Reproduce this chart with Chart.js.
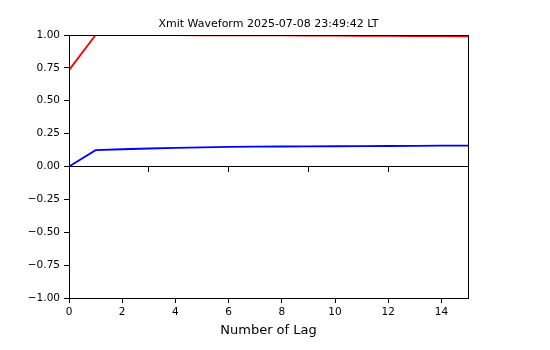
<!DOCTYPE html>
<html>
<head>
<meta charset="utf-8">
<script src="https://cdn.jsdelivr.net/npm/chart.js@4/dist/chart.umd.min.js"></script>
<style>
  html, body { margin: 0; padding: 0; background: #ffffff; }
  #wrap { width: 550px; height: 350px; }
</style>
</head>
<body>
<div id="wrap"><canvas id="c" width="550" height="350"></canvas></div>
<script>
// Lag index
const lags = [0, 1, 2, 3, 4, 5, 6, 7, 8, 9, 10, 11, 12, 13, 14, 15];
// Correlation of the transmitted waveform (two components)
const redSeries  = [0.733, 1.000, 0.9995, 0.999, 0.9985, 0.998, 0.9975, 0.997, 0.9965, 0.996, 0.995, 0.994, 0.993, 0.992, 0.991, 0.990];
const blueSeries = [0.000, 0.124, 0.131, 0.137, 0.142, 0.146, 0.149, 0.151, 0.152, 0.153, 0.154, 0.155, 0.156, 0.157, 0.158, 0.159];
// Axis ticks
const xTicks = [0, 2, 4, 6, 8, 10, 12, 14];
const yTicks = [-1, -0.75, -0.5, -0.25, 0, 0.25, 0.5, 0.75, 1];
const zeroAxisTicks = [3, 6, 9, 12];

const FONT = 'DejaVu Sans';
const INK = '#000000';

const toPoints = (ys) => lags.map((x, i) => ({ x: x, y: ys[i] }));

// Box around the plotting area
const framePlugin = {
  id: 'frame',
  afterDatasetsDraw(chart) {
    const { ctx, chartArea: a } = chart;
    ctx.save();
    ctx.strokeStyle = INK;
    ctx.lineWidth = 1;
    ctx.strokeRect(Math.round(a.left) + 0.5, Math.round(a.top) + 0.5,
                   Math.round(a.right - a.left), Math.round(a.bottom - a.top));
    ctx.restore();
  }
};

new Chart(document.getElementById('c'), {
  type: 'line',
  data: {
    datasets: [
      { data: toPoints(redSeries), borderColor: '#ff0000', borderWidth: 1.8, pointRadius: 0, tension: 0, fill: false },
      { data: toPoints(blueSeries), borderColor: '#0000ff', borderWidth: 1.8, pointRadius: 0, tension: 0, fill: false }
    ]
  },
  options: {
    responsive: false,
    animation: false,
    events: [],
    layout: { padding: { left: 0, right: 82, top: 0, bottom: 0 } },
    plugins: {
      legend: { display: false },
      tooltip: { enabled: false },
      title: { display: false }
    },
    scales: {
      x: {
        type: 'linear',
        min: 0, max: 15,
        afterBuildTicks: (s) => { s.ticks = xTicks.map(v => ({ value: v })); },
        afterFit: (s) => { s.height = 52; },
        ticks: { color: INK, padding: 3, maxRotation: 0, font: { family: FONT, size: 10.5 } },
        grid: { drawOnChartArea: false, drawTicks: true, tickLength: 5, tickColor: INK },
        border: { display: true, color: INK, width: 1 },
        title: {
          display: true, text: 'Number of Lag', color: INK,
          font: { family: FONT, size: 13 }, padding: { top: 4, bottom: 12 }
        }
      },
      // Header axis carrying the plot title, centred over the plotting area
      head: {
        type: 'linear',
        axis: 'x',
        position: 'top',
        min: 0, max: 15,
        afterFit: (s) => { s.height = 35; },
        ticks: { display: false },
        grid: { display: false, drawOnChartArea: false, drawTicks: false },
        border: { display: false },
        title: {
          display: true, text: 'Xmit Waveform 2025-07-08 23:49:42 LT', color: INK,
          font: { family: FONT, size: 11 }, padding: { top: 18, bottom: 0 }
        }
      },
      zero: {
        type: 'linear',
        axis: 'x',
        position: { y: 0 },
        min: 0, max: 15,
        afterBuildTicks: (s) => { s.ticks = zeroAxisTicks.map(v => ({ value: v })); },
        ticks: { display: false },
        grid: { drawOnChartArea: false, drawTicks: true, tickLength: 5, tickColor: INK },
        border: { display: true, color: INK, width: 1 }
      },
      y: {
        type: 'linear',
        min: -1, max: 1,
        afterBuildTicks: (s) => { s.ticks = yTicks.map(v => ({ value: v })); },
        afterFit: (s) => { s.width = 69; },
        ticks: {
          color: INK, padding: 4,
          font: { family: FONT, size: 10.5 },
          callback: (v) => (v < 0 ? '\u2212' : '') + Math.abs(v).toFixed(2)
        },
        grid: { drawOnChartArea: false, drawTicks: true, tickLength: 5, tickColor: INK },
        border: { display: true, color: INK, width: 1 }
      }
    }
  },
  plugins: [framePlugin]
});
</script>
</body>
</html>
